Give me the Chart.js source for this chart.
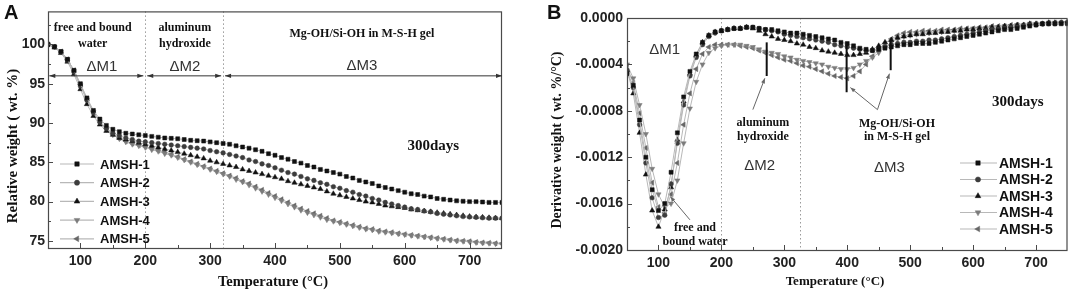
<!DOCTYPE html>
<html><head><meta charset="utf-8">
<script src="https://cdn.jsdelivr.net/npm/chart.js@4"></script>
<style>
html,body{margin:0;padding:0;background:#fff}
body{width:1072px;height:293px;overflow:hidden;position:relative}
canvas{position:absolute;top:0}
#ca{left:0}
#cb{left:535px}
</style></head>
<body>
<canvas id="ca" width="535" height="293"></canvas>
<canvas id="cb" width="537" height="293"></canvas>
<script>
// ---------------- DATA ----------------
const seriesNames = ['AMSH-1','AMSH-2','AMSH-3','AMSH-4','AMSH-5'];
const temperatures = [50,60,70,80,90,100,110,120,130,140,150,160,170,180,190,200,210,220,230,240,250,260,270,280,290,300,310,320,330,340,350,360,370,380,390,400,410,420,430,440,450,460,470,480,490,500,510,520,530,540,550,560,570,580,590,600,610,620,630,640,650,660,670,680,690,700,710,720,730,740,750];

// Panel A: relative weight (wt.%)
const tgaAMSH1 = [100.0,99.7,99.1,98.1,96.7,95.0,93.2,91.6,90.5,89.7,89.2,88.9,88.7,88.6,88.5,88.4,88.3,88.2,88.1,88.05,88.0,87.9,87.8,87.75,87.7,87.6,87.5,87.4,87.3,87.1,86.95,86.8,86.6,86.4,86.1,85.9,85.6,85.4,85.1,84.9,84.6,84.4,84.1,83.9,83.7,83.5,83.2,83.0,82.7,82.5,82.3,82.0,81.8,81.6,81.4,81.2,81.0,80.9,80.7,80.6,80.4,80.3,80.2,80.1,80.05,80.0,80.0,79.95,79.9,79.9,79.9];
const tgaAMSH2 = [100.0,99.7,99.0,98.0,96.5,94.7,92.9,91.3,90.1,89.3,88.7,88.4,88.1,87.9,87.7,87.6,87.5,87.4,87.3,87.2,87.1,87.0,86.9,86.8,86.7,86.5,86.35,86.2,86.0,85.8,85.6,85.3,85.1,84.8,84.6,84.3,84.0,83.7,83.5,83.2,82.9,82.7,82.4,82.2,81.9,81.7,81.4,81.2,80.9,80.7,80.4,80.2,79.9,79.7,79.5,79.3,79.1,79.0,78.8,78.7,78.5,78.4,78.3,78.2,78.1,78.05,78.0,77.95,77.9,77.9,77.9];
const tgaAMSH3 = [100.0,99.6,98.9,97.8,96.2,94.3,92.4,90.9,89.8,89.0,88.5,88.1,87.9,87.7,87.5,87.3,87.1,86.9,86.7,86.5,86.3,86.1,85.9,85.7,85.5,85.2,85.0,84.8,84.6,84.4,84.1,83.9,83.7,83.5,83.3,83.1,82.9,82.6,82.4,82.2,82.0,81.8,81.6,81.3,81.0,80.8,80.6,80.4,80.2,80.0,79.9,79.7,79.5,79.4,79.3,79.2,79.0,78.9,78.8,78.7,78.6,78.5,78.4,78.3,78.2,78.1,78.05,78.0,77.95,77.9,77.9];
const tgaAMSH4 = [100.0,99.7,99.1,98.1,96.6,94.8,93.0,91.4,90.1,89.2,88.5,88.0,87.6,87.3,87.1,86.9,86.6,86.4,86.1,85.9,85.6,85.3,85.0,84.7,84.4,84.1,83.8,83.5,83.2,82.8,82.5,82.1,81.7,81.3,80.9,80.5,80.1,79.7,79.3,78.9,78.6,78.3,78.0,77.7,77.5,77.3,77.1,76.9,76.7,76.5,76.4,76.2,76.1,76.0,75.9,75.8,75.7,75.6,75.5,75.4,75.3,75.2,75.1,75.0,74.95,74.9,74.8,74.75,74.7,74.65,74.6];
const tgaAMSH5 = [100.0,99.7,99.1,98.1,96.7,94.9,93.1,91.5,90.2,89.3,88.6,88.1,87.7,87.4,87.2,87.0,86.8,86.5,86.3,86.0,85.7,85.4,85.1,84.8,84.5,84.2,83.9,83.6,83.3,83.0,82.6,82.3,81.9,81.5,81.1,80.7,80.3,79.9,79.5,79.1,78.8,78.5,78.2,77.9,77.6,77.4,77.2,77.0,76.8,76.6,76.5,76.3,76.2,76.1,75.95,75.85,75.75,75.65,75.55,75.45,75.35,75.25,75.15,75.05,75.0,74.95,74.85,74.8,74.75,74.7,74.65];

// Panel B: derivative weight (wt.%/°C)
const dtgAMSH1 = [-0.00048,-0.00058,-0.00088,-0.00120,-0.00148,-0.00166,-0.00160,-0.00133,-0.00099,-0.00068,-0.00046,-0.00031,-0.00021,-0.00015,-0.00012,-0.00011,-0.00010,-0.00009,-0.00009,-0.00008,-0.00008,-0.00009,-0.00010,-0.00010,-0.00011,-0.00012,-0.00013,-0.00013,-0.00014,-0.00015,-0.00016,-0.00017,-0.00018,-0.00019,-0.00021,-0.00022,-0.00024,-0.00026,-0.00027,-0.00028,-0.00027,-0.00026,-0.00025,-0.00024,-0.00023,-0.00023,-0.00022,-0.00022,-0.00022,-0.00021,-0.00020,-0.00019,-0.00018,-0.00017,-0.00016,-0.00015,-0.00014,-0.00013,-0.00012,-0.00011,-0.00010,-0.00010,-0.00009,-0.00008,-0.00007,-0.00006,-0.00005,-0.00005,-0.00005,-0.00005,-0.00005];
const dtgAMSH2 = [-0.00045,-0.00060,-0.00092,-0.00125,-0.00155,-0.00172,-0.00170,-0.00143,-0.00108,-0.00075,-0.00050,-0.00034,-0.00023,-0.00016,-0.00013,-0.00011,-0.00010,-0.00009,-0.00009,-0.00008,-0.00008,-0.00009,-0.00010,-0.00011,-0.00012,-0.00014,-0.00015,-0.00016,-0.00017,-0.00018,-0.00019,-0.00020,-0.00021,-0.00023,-0.00024,-0.00025,-0.00026,-0.00027,-0.00028,-0.00028,-0.00027,-0.00025,-0.00023,-0.00022,-0.00021,-0.00021,-0.00020,-0.00020,-0.00019,-0.00019,-0.00018,-0.00017,-0.00016,-0.00015,-0.00014,-0.00013,-0.00012,-0.00011,-0.00010,-0.00010,-0.00009,-0.00008,-0.00008,-0.00007,-0.00006,-0.00006,-0.00005,-0.00005,-0.00005,-0.00004,-0.00004];
const dtgAMSH3 = [-0.00045,-0.00065,-0.00099,-0.00135,-0.00166,-0.00180,-0.00165,-0.00146,-0.00105,-0.00072,-0.00048,-0.00032,-0.00021,-0.00015,-0.00012,-0.00011,-0.00010,-0.00009,-0.00009,-0.00008,-0.00009,-0.00011,-0.00014,-0.00016,-0.00018,-0.00019,-0.00020,-0.00022,-0.00023,-0.00025,-0.00026,-0.00028,-0.00029,-0.00030,-0.00031,-0.00032,-0.00032,-0.00031,-0.00030,-0.00027,-0.00024,-0.00021,-0.00019,-0.00017,-0.00016,-0.00015,-0.00014,-0.00014,-0.00013,-0.00013,-0.00012,-0.00012,-0.00011,-0.00011,-0.00010,-0.00010,-0.00009,-0.00009,-0.00008,-0.00008,-0.00007,-0.00007,-0.00006,-0.00006,-0.00005,-0.00005,-0.00005,-0.00004,-0.00004,-0.00004,-0.00004];
const dtgAMSH4 = [-0.00040,-0.00052,-0.00075,-0.00100,-0.00130,-0.00152,-0.00163,-0.00160,-0.00140,-0.00108,-0.00078,-0.00055,-0.00040,-0.00030,-0.00026,-0.00024,-0.00023,-0.00023,-0.00023,-0.00024,-0.00025,-0.00027,-0.00029,-0.00030,-0.00031,-0.00033,-0.00034,-0.00036,-0.00037,-0.00038,-0.00039,-0.00040,-0.00042,-0.00043,-0.00044,-0.00044,-0.00043,-0.00040,-0.00037,-0.00034,-0.00030,-0.00025,-0.00021,-0.00018,-0.00016,-0.00015,-0.00014,-0.00013,-0.00013,-0.00012,-0.00012,-0.00011,-0.00011,-0.00010,-0.00010,-0.00009,-0.00009,-0.00009,-0.00008,-0.00008,-0.00007,-0.00007,-0.00006,-0.00006,-0.00005,-0.00005,-0.00005,-0.00004,-0.00004,-0.00004,-0.00004];
const dtgAMSH5 = [-0.00042,-0.00056,-0.00082,-0.00112,-0.00142,-0.00163,-0.00168,-0.00152,-0.00125,-0.00092,-0.00065,-0.00044,-0.00031,-0.00025,-0.00023,-0.00023,-0.00023,-0.00023,-0.00024,-0.00025,-0.00026,-0.00028,-0.00030,-0.00032,-0.00034,-0.00036,-0.00037,-0.00039,-0.00041,-0.00042,-0.00044,-0.00046,-0.00048,-0.00050,-0.00051,-0.00052,-0.00050,-0.00046,-0.00040,-0.00033,-0.00027,-0.00022,-0.00018,-0.00015,-0.00013,-0.00012,-0.00012,-0.00011,-0.00011,-0.00011,-0.00010,-0.00010,-0.00010,-0.00009,-0.00009,-0.00009,-0.00008,-0.00008,-0.00007,-0.00007,-0.00007,-0.00006,-0.00006,-0.00006,-0.00005,-0.00005,-0.00005,-0.00004,-0.00004,-0.00004,-0.00003];

// Tick labels
const xTickLabels = [100,200,300,400,500,600,700];
const xMinorTicks = [150,250,350,450,550,650];
const tgaTickLabels = [75,80,85,90,95,100];
const tgaMinorTicks = [77.5,82.5,87.5,92.5,97.5,102.5];
const dtgTickLabels = [0,-0.0004,-0.0008,-0.0012,-0.0016,-0.0020];
const dtgMinorTicks = [-0.0002,-0.0006,-0.0010,-0.0014,-0.0018];

// Stage boundaries (°C)
const tgaStageBounds = [200,320];
const dtgStageBounds = [200,325];

// ---------------- STYLE ----------------
const SANS = "'Liberation Sans', Arial, sans-serif";
const SERIF = "'Liberation Serif', 'Times New Roman', serif";
const seriesStyles = [
  {pointStyle:'rect', color:'#111', rotation:0, radius:2.8},
  {pointStyle:'circle', color:'#3c3c3c', rotation:0, radius:2.3},
  {pointStyle:'triangle', color:'#111', rotation:0, radius:3.0},
  {pointStyle:'triangle', color:'#7c7c7c', rotation:180, radius:3.0},
  {pointStyle:'triangle', color:'#666', rotation:-90, radius:3.0}
];

function buildDatasets(seriesList){
  return seriesList.map((vals,i)=>{
    const s = seriesStyles[i];
    return {
      label: seriesNames[i],
      data: temperatures.map((t,k)=>({x:t,y:vals[k]})),
      borderColor:'#b8b8b8', borderWidth:1,
      pointStyle:s.pointStyle, pointRotation:s.rotation, pointRadius:s.radius,
      pointBackgroundColor:s.color, pointBorderColor:s.color, pointBorderWidth:0.5,
      tension:0, fill:false
    };
  });
}

function drawArrowHead(ctx,x0,y0,x1,y1,len,half){
  const ang=Math.atan2(y1-y0,x1-x0);
  ctx.beginPath();
  ctx.moveTo(x1,y1);
  ctx.lineTo(x1-len*Math.cos(ang)+half*Math.sin(ang), y1-len*Math.sin(ang)-half*Math.cos(ang));
  ctx.lineTo(x1-len*Math.cos(ang)-half*Math.sin(ang), y1-len*Math.sin(ang)+half*Math.cos(ang));
  ctx.closePath(); ctx.fill();
}

function makeDeco(cfg){
  return {
    id:'deco',
    beforeDatasetsDraw(chart){
      const {ctx, chartArea:a, scales:{x}} = chart;
      ctx.save();
      ctx.strokeStyle='#9a9a9a'; ctx.lineWidth=1; ctx.setLineDash([1.5,2.5]);
      cfg.bounds.forEach(t=>{
        const px=Math.round(x.getPixelForValue(t))+0.5;
        ctx.beginPath(); ctx.moveTo(px,a.top); ctx.lineTo(px,a.bottom); ctx.stroke();
      });
      ctx.restore();
    },
    afterDatasetsDraw(chart){
      const {ctx, chartArea:a, scales:{x,y}} = chart;
      ctx.save();
      // frame
      ctx.strokeStyle='#4a4a4a'; ctx.lineWidth=1.2;
      ctx.strokeRect(a.left+0.5,a.top+0.5,a.right-a.left-1,a.bottom-a.top);
      // inward ticks
      ctx.lineWidth=1;
      const tk=(px,py,dx,dy)=>{ctx.beginPath();ctx.moveTo(px,py);ctx.lineTo(px+dx,py+dy);ctx.stroke();};
      xTickLabels.forEach(v=>tk(Math.round(x.getPixelForValue(v))+0.5,a.bottom,0,-5));
      xMinorTicks.forEach(v=>tk(Math.round(x.getPixelForValue(v))+0.5,a.bottom,0,-3));
      cfg.yTicks.forEach(v=>tk(a.left,Math.round(y.getPixelForValue(v))+0.5,5,0));
      cfg.yMinor.forEach(v=>tk(a.left,Math.round(y.getPixelForValue(v))+0.5,3,0));
      // vertical marker bars
      ctx.strokeStyle='#111'; ctx.lineWidth=2;
      (cfg.bars||[]).forEach(b=>{
        const px=x.getPixelForValue(b.t);
        ctx.beginPath(); ctx.moveTo(px,y.getPixelForValue(b.y0)); ctx.lineTo(px,y.getPixelForValue(b.y1)); ctx.stroke();
      });
      // arrows
      (cfg.arrows||[]).forEach(ar=>{
        const x0=x.getPixelForValue(ar.t0), x1=x.getPixelForValue(ar.t1);
        const y0=y.getPixelForValue(ar.v0), y1=y.getPixelForValue(ar.v1);
        ctx.strokeStyle=ar.color; ctx.fillStyle=ar.color; ctx.lineWidth=ar.w||1;
        ctx.beginPath(); ctx.moveTo(x0,y0); ctx.lineTo(x1,y1); ctx.stroke();
        drawArrowHead(ctx,x0,y0,x1,y1,ar.len||6,ar.half||2.3);
        if(ar.both) drawArrowHead(ctx,x1,y1,x0,y0,ar.len||6,ar.half||2.3);
      });
      // texts in data coords
      ctx.textBaseline='middle';
      (cfg.texts||[]).forEach(tx=>{
        ctx.font=tx.font; ctx.fillStyle=tx.color||'#111'; ctx.textAlign=tx.align||'center';
        ctx.fillText(tx.text,x.getPixelForValue(tx.t),y.getPixelForValue(tx.v));
      });
      // legend
      const L=cfg.legend;
      chart.data.datasets.forEach((ds,i)=>{
        const ly=L.y0+i*L.dy;
        ctx.strokeStyle='#b8b8b8'; ctx.lineWidth=1.2;
        ctx.beginPath(); ctx.moveTo(L.x0,ly); ctx.lineTo(L.x1,ly); ctx.stroke();
        ctx.fillStyle=ds.pointBackgroundColor; ctx.strokeStyle=ds.pointBorderColor; ctx.lineWidth=0.5;
        Chart.helpers.drawPoint(ctx,{pointStyle:ds.pointStyle,rotation:ds.pointRotation,radius:ds.pointRadius+0.3,borderWidth:0.5},L.xm,ly);
        ctx.fillStyle='#111'; ctx.font=L.font; ctx.textAlign='left';
        ctx.fillText(ds.label,L.xt,ly+1);
      });
      ctx.restore();
    },
    afterDraw(chart){
      const {ctx}=chart;
      ctx.save();
      ctx.fillStyle='#111';
      // panel letter
      ctx.font=`bold 20px ${SANS}`; ctx.textAlign='left'; ctx.textBaseline='alphabetic';
      ctx.fillText(cfg.letter.text,cfg.letter.x,cfg.letter.y);
      // axis titles
      ctx.textBaseline='middle'; ctx.textAlign='center';
      ctx.font=cfg.xTitle.font; ctx.fillText(cfg.xTitle.text,cfg.xTitle.x,cfg.xTitle.y);
      ctx.translate(cfg.yTitle.x,cfg.yTitle.y); ctx.rotate(-Math.PI/2);
      ctx.font=cfg.yTitle.font; ctx.fillText(cfg.yTitle.text,0,0);
      ctx.restore();
    }
  };
}

function baseScales(xH, yW, yMin, yMax, yTicks, yFmt, xPad, yPad){
  return {
    x:{type:'linear',min:50,max:750,
       afterFit:s=>{s.height=xH;},
       afterBuildTicks:s=>{s.ticks=xTickLabels.map(v=>({value:v}));},
       ticks:{font:{family:SANS,weight:'bold',size:14},color:'#222',padding:xPad,maxRotation:0,autoSkip:false,callback:v=>String(v)},
       grid:{display:false,drawTicks:false},border:{display:false}},
    y:{type:'linear',min:yMin,max:yMax,
       afterFit:s=>{s.width=yW;},
       afterBuildTicks:s=>{s.ticks=yTicks.map(v=>({value:v}));},
       ticks:{font:{family:SANS,weight:'bold',size:14},color:'#222',padding:yPad,autoSkip:false,callback:yFmt},
       grid:{display:false,drawTicks:false},border:{display:false}}
  };
}

const common = {animation:false,responsive:false,devicePixelRatio:1,
  plugins:{legend:{display:false},tooltip:{enabled:false}},
  elements:{line:{borderJoinStyle:'round'}}};

// ---------------- PANEL A ----------------
const lblFont = `bold 12px ${SERIF}`;
const dmFont = `15px ${SANS}`;
new Chart(document.getElementById('ca'),{
  type:'line',
  data:{datasets:buildDatasets([tgaAMSH1,tgaAMSH2,tgaAMSH3,tgaAMSH4,tgaAMSH5])},
  options:Object.assign({},common,{
    layout:{padding:{left:0,top:10,right:33,bottom:0}},
    scales:baseScales(45,48,74.1,104.2,tgaTickLabels,v=>String(v),5,3)
  }),
  plugins:[makeDeco({
    bounds:tgaStageBounds, yTicks:tgaTickLabels, yMinor:tgaMinorTicks,
    arrows:[
      {t0:52,t1:197,v0:96,v1:96,color:'#333',both:true,len:6,half:2.2},
      {t0:203,t1:317,v0:96,v1:96,color:'#333',both:true,len:6,half:2.2},
      {t0:323,t1:750,v0:96,v1:96,color:'#333',both:true,len:6,half:2.2}
    ],
    texts:[
      {text:'free and bound',t:119,v:102.15,font:lblFont},
      {text:'water',t:119,v:100.1,font:lblFont},
      {text:'aluminum',t:261,v:102.15,font:lblFont},
      {text:'hydroxide',t:261,v:100.1,font:lblFont},
      {text:'Mg-OH/Si-OH in M-S-H gel',t:534,v:101.4,font:lblFont},
      {text:'ΔM1',t:133,v:97.1,font:dmFont,color:'#333'},
      {text:'ΔM2',t:261,v:97.1,font:dmFont,color:'#333'},
      {text:'ΔM3',t:534,v:97.3,font:dmFont,color:'#333'},
      {text:'300days',t:644,v:87.1,font:`bold 15px ${SERIF}`}
    ],
    legend:{x0:60,x1:94,xm:77,xt:100,y0:164,dy:18.7,font:`bold 13px ${SANS}`},
    letter:{text:'A',x:4,y:19},
    xTitle:{text:'Temperature (°C)',x:273,y:282,font:`bold 14.5px ${SERIF}`},
    yTitle:{text:'Relative weight ( wt. %)',x:13,y:146,font:`bold 15px ${SERIF}`}
  })]
});

// ---------------- PANEL B ----------------
new Chart(document.getElementById('cb'),{
  type:'line',
  data:{datasets:buildDatasets([dtgAMSH1,dtgAMSH2,dtgAMSH3,dtgAMSH4,dtgAMSH5])},
  options:Object.assign({},common,{
    layout:{padding:{left:0,top:18,right:4,bottom:0}},
    scales:baseScales(43,92,-0.0020,0.0000,dtgTickLabels,v=>Number(v).toFixed(4),5,4)
  }),
  plugins:[makeDeco({
    bounds:dtgStageBounds, yTicks:dtgTickLabels, yMinor:dtgMinorTicks,
    bars:[{t:272,y0:-0.00021,y1:-0.00050},{t:399,y0:-0.00021,y1:-0.00064},{t:469,y0:-0.00019,y1:-0.00045}],
    arrows:[
      {t0:250,t1:269,v0:-0.00079,v1:-0.00052,color:'#666',len:5,half:2},
      {t0:150,t1:119,v0:-0.00174,v1:-0.00154,color:'#666',len:5,half:2},
      {t0:448,t1:405,v0:-0.00079,v1:-0.00060,color:'#666',len:5,half:2},
      {t0:448,t1:467,v0:-0.00079,v1:-0.00048,color:'#666',len:5,half:2}
    ],
    texts:[
      {text:'ΔM1',t:110,v:-0.000276,font:dmFont,color:'#333'},
      {text:'aluminum',t:266,v:-0.000905,font:lblFont},
      {text:'hydroxide',t:266,v:-0.001026,font:lblFont},
      {text:'ΔM2',t:261,v:-0.001276,font:dmFont,color:'#333'},
      {text:'free and',t:158,v:-0.00181,font:lblFont},
      {text:'bound water',t:158,v:-0.00193,font:lblFont},
      {text:'Mg-OH/Si-OH',t:479,v:-0.000914,font:lblFont},
      {text:'in M-S-H gel',t:479,v:-0.001026,font:lblFont},
      {text:'300days',t:671,v:-0.000724,font:`bold 15px ${SERIF}`},
      {text:'ΔM3',t:467,v:-0.00129,font:dmFont,color:'#333'}
    ],
    legend:{x0:425,x1:462,xm:443,xt:464,y0:163,dy:16.5,font:`bold 14px ${SANS}`},
    letter:{text:'B',x:12,y:19},
    xTitle:{text:'Temperature (°C)',x:300,y:282,font:`bold 13px ${SERIF}`},
    yTitle:{text:'Derivative weight ( wt. %/°C)',x:22,y:140,font:`bold 14px ${SERIF}`}
  })]
});
</script>
</body></html>
